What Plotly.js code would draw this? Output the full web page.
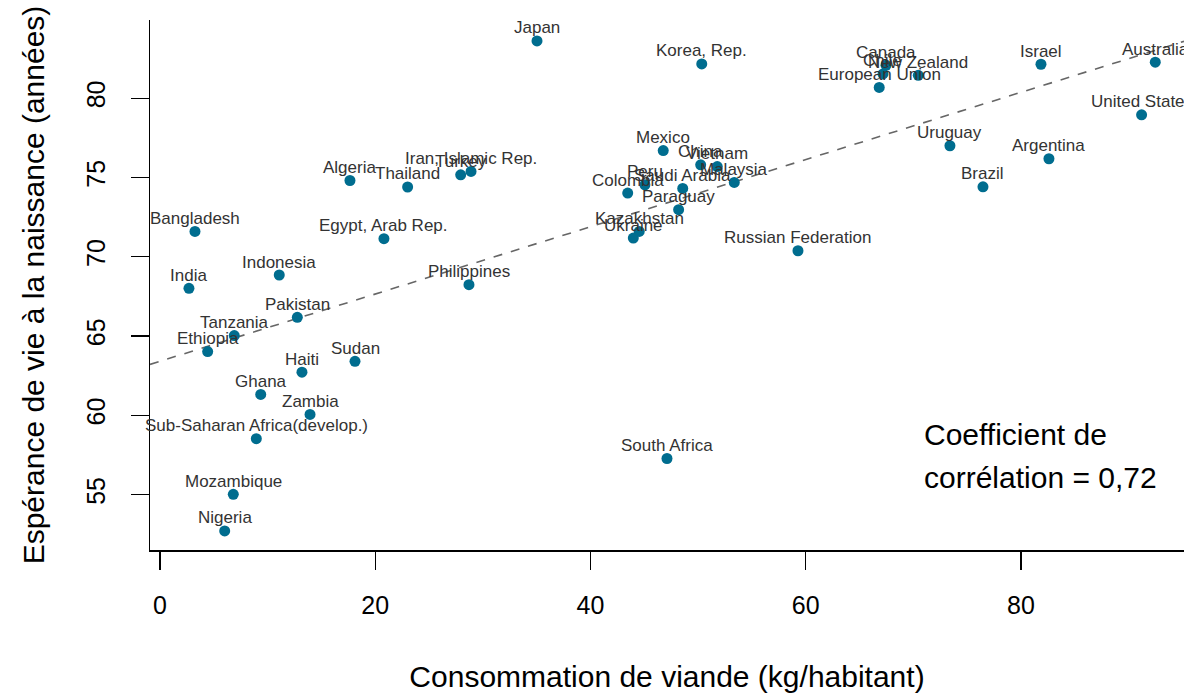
<!DOCTYPE html>
<html>
<head>
<meta charset="utf-8">
<script src="https://cdn.plot.ly/plotly-3.0.1.min.js"></script>
<style>html,body{margin:0;padding:0;background:#fff;overflow:hidden;}#chart{width:1184px;height:695px;}</style>
</head>
<body>
<div id="chart"></div>
<script>
const countries = ["Japan","Korea, Rep.","European Union","Canada","Chile","New Zealand","Israel","Australia","United States","Uruguay","Argentina","Brazil","Russian Federation","South Africa","Mexico","China","Vietnam","Malaysia","Saudi Arabia","Peru","Colombia","Paraguay","Kazakhstan","Ukraine","Algeria","Thailand","Iran, Islamic Rep.","Turkey","Egypt, Arab Rep.","Philippines","Bangladesh","India","Indonesia","Pakistan","Tanzania","Ethiopia","Sudan","Haiti","Ghana","Zambia","Sub-Saharan Africa(develop.)","Mozambique","Nigeria"];
const meat = [35.03,50.34,66.83,67.46,67.18,70.46,81.86,92.48,91.21,73.40,82.60,76.47,59.28,47.11,46.76,50.24,51.78,53.36,48.57,45.06,43.46,48.19,44.53,43.98,17.65,23.01,28.90,27.94,20.81,28.71,3.25,2.69,11.08,12.76,6.90,4.43,18.12,13.19,9.36,13.94,8.95,6.81,6.01];
const lifeExp = [83.61,82.16,80.68,82.07,81.53,81.44,82.14,82.27,78.95,77.00,76.18,74.41,70.38,57.28,76.70,75.80,75.69,74.69,74.31,74.54,74.02,72.97,71.60,71.18,74.81,74.40,75.38,75.17,71.14,68.24,71.60,68.01,68.85,66.18,65.03,64.02,63.41,62.72,61.32,60.06,58.53,55.02,52.71];
const fitIntercept = 63.41;
const fitSlope = 0.212;
const xTicks = [0,20,40,60,80];
const yTicks = [55,60,65,70,75,80];
const corrLines = ["Coefficient de","corrélation = 0,72"];

const xRange = [-0.929, 95.15];
const yRange = [51.51, 84.93];
const FONT = "Liberation Sans, Arial, sans-serif";

const fitTrace = {
  x: xRange,
  y: xRange.map(v => fitIntercept + fitSlope * v),
  mode: "lines",
  line: {color: "#666666", width: 1.6, dash: "dash"},
  hoverinfo: "skip",
  showlegend: false
};
const pts = {
  x: meat, y: lifeExp,
  mode: "markers",
  marker: {color: "#006d8f", size: 11},
  cliponaxis: false,
  showlegend: false
};

const labelAnns = countries.map((name, i) => ({
  x: meat[i], y: lifeExp[i], xref: "x", yref: "y",
  text: name, showarrow: false,
  xanchor: "center", yanchor: "middle", yshift: 13,
  font: {family: FONT, size: 17, color: "#333333"}
}));
const corrAnns = corrLines.map((t, i) => ({
  x: 70.8, y: [58.8, 56.1][i], xref: "x", yref: "y", text: t, showarrow: false,
  xanchor: "left", yanchor: "middle", align: "left",
  font: {family: FONT, size: 30, color: "#000"}
}));

const layout = {
  width: 1184, height: 695,
  margin: {l: 150, r: 0, t: 20, b: 145},
  paper_bgcolor: "#ffffff", plot_bgcolor: "#ffffff",
  font: {family: FONT, color: "#000000"},
  showlegend: false,
  xaxis: {
    range: xRange, tickvals: xTicks, ticktext: xTicks.map(String),
    showgrid: false, zeroline: false, showline: true, linecolor: "#000", linewidth: 1.5,
    ticks: "outside", ticklen: 18, tickwidth: 1.2, tickcolor: "#000",
    tickfont: {family: FONT, size: 25, color: "#000"},
    ticklabelstandoff: 14,
    title: {text: "Consommation de viande (kg/habitant)", font: {family: FONT, size: 30, color: "#000"}, standoff: 48},
    automargin: false
  },
  yaxis: {
    range: yRange, tickvals: yTicks, ticktext: yTicks.map(String),
    showgrid: false, zeroline: false, showline: true, linecolor: "#000", linewidth: 1.5,
    ticks: "outside", ticklen: 18, tickwidth: 1.2, tickcolor: "#000",
    tickangle: -90,
    tickfont: {family: FONT, size: 25, color: "#000"},
    ticklabelstandoff: 16,
    title: {text: "Espérance de vie à la naissance (années)", font: {family: FONT, size: 30, color: "#000"}, standoff: 28},
    automargin: false
  },
  annotations: labelAnns.concat(corrAnns)
};
Plotly.newPlot("chart", [fitTrace, pts], layout, {displayModeBar: false, staticPlot: true});
</script>
</body>
</html>
